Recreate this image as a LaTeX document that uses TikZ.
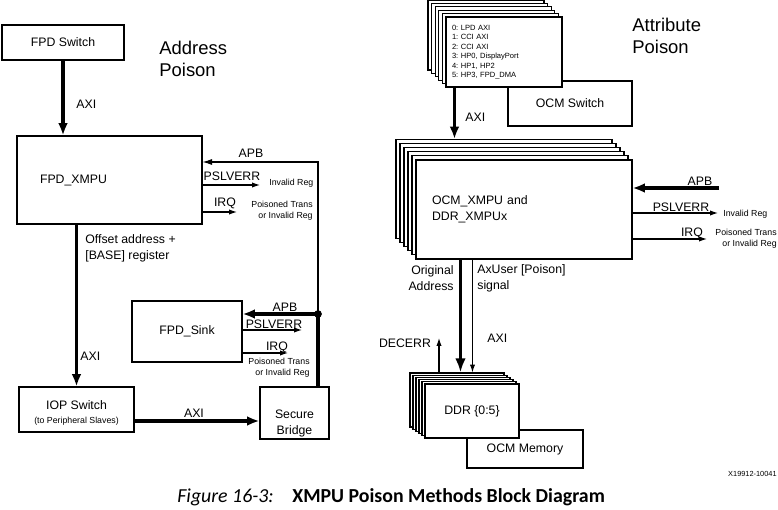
\documentclass[tikz,border=0pt]{standalone}
\usepackage{fontspec}
\setmainfont{Liberation Sans}
\newfontfamily\capfont{Carlito}
\usetikzlibrary{arrows.meta}

\begin{document}
\frenchspacing
\begin{tikzpicture}[x=0.02cm, y=-0.02cm,
  box/.style={draw, line width=0.6pt, fill=white, inner sep=0pt},
  bigarrow/.style={line width=2.1pt, -{Latex[length=7pt,width=5.5pt]}},
  thinarrow/.style={line width=0.6pt, -{Latex[length=4.5pt,width=3pt]}},
  lbl/.style={font=\fontsize{7}{9}\selectfont, inner sep=0pt},
  note/.style={font=\fontsize{5}{6.2}\selectfont, inner sep=0pt, align=right},
  heading/.style={font=\fontsize{10.5}{12.5}\selectfont, inner sep=0pt, align=left, anchor=west}]

\useasboundingbox (0,0) rectangle (778,510);

% address poison
\node[heading] (addrtitle) at (159,59) {Address\\Poison};
\node[box, lbl, minimum width=2.44cm, minimum height=0.7cm] (fpdswitch) at (63,42.5) {FPD Switch};
\node[box, lbl, minimum width=3.7cm, minimum height=1.76cm, text width=2.78cm, align=left] (fpdxmpu) at (109.5,180) {FPD\_XMPU};
\node[box, minimum width=2.3cm, minimum height=0.9cm] (iop) at (76.5,409.5) {};
\node[lbl, align=center] (ioptext) at (76.5,413) {IOP Switch\\[-1pt]{\fontsize{5}{6}\selectfont (to Peripheral Slaves)}};
\node[box, minimum width=1.38cm, minimum height=1.04cm] (bridge) at (294.5,413) {};
\node[lbl, align=center] (bridgetext) at (294.5,423.5) {Secure\\Bridge};
\node[box, lbl, minimum width=2.2cm, minimum height=1.22cm] (fpdsink) at (187,331.5) {FPD\_Sink};

\coordinate (apbdot) at (318,314);
\coordinate (apbtop) at (318,162);
\coordinate (pslvA) at (260,185);
\coordinate (irqA) at (237,212);
\coordinate (pslvB) at (302,330);
\coordinate (irqB) at (288,353);

\draw[bigarrow] (fpdswitch.south) -- (fpdswitch.south |- fpdxmpu.north);
\node[lbl, anchor=west] (axitop) at (76,104) {AXI};
\draw[bigarrow] (fpdxmpu.south -| iop.north) -- (iop.north);
\node[lbl, anchor=west, align=left] (offset) at (85,248) {Offset address +\\{}[BASE] register};
\node[lbl, anchor=west] (axileft) at (80,356) {AXI};
\draw[bigarrow] ([yshift=-0.23cm]iop.east) -- ([yshift=-0.23cm]iop.east -| bridge.west);
\node[lbl] (axibottom) at (194,413) {AXI};

% APB wire
\draw[line width=2.1pt] (apbdot |- bridge.north) -- (apbdot);
\draw[thinarrow, -{Latex[length=5.5pt,width=3.5pt]}] (apbdot) -- (apbtop) -- (apbtop -| fpdxmpu.east);
\fill (apbdot) circle (2.2pt);
\draw[bigarrow] (apbdot) -- (apbdot -| fpdsink.east);
\node[lbl] (apbxmpu) at (251,153) {APB};
\node[lbl] (apbsink) at (285,307) {APB};

\draw[thinarrow] (pslvA -| fpdxmpu.east) -- (pslvA);
\node[lbl] (pslvAtext) at (232,176) {PSLVERR};
\node[note, anchor=west] (invalidA) at (269,183) {Invalid Reg};
\draw[thinarrow] (irqA -| fpdxmpu.east) -- (irqA);
\node[lbl] (irqAtext) at (225,203) {IRQ};
\node[note, anchor=east] (poisonA) at (313,210.5) {Poisoned Trans\\or Invalid Reg};

\draw[thinarrow] (pslvB -| fpdsink.east) -- (pslvB);
\node[lbl] (pslvBtext) at (274,324) {PSLVERR};
\draw[thinarrow] (irqB -| fpdsink.east) -- (irqB);
\node[lbl] (irqBtext) at (277,347) {IRQ};
\node[note, anchor=east] (poisonB) at (310,367.5) {Poisoned Trans\\or Invalid Reg};

% attribute poison
\node[heading] (attrtitle) at (632,36) {Attribute\\Poison};
\node[box, lbl, minimum width=2.48cm, minimum height=0.9cm] (ocmswitch) at (570,103.5) {OCM Switch};
\foreach \k in {5,...,1}
  \node[box, minimum width=2.32cm, minimum height=1.4cm] (port\k) at ({504-3.6*\k},{52-3.4*\k}) {};
\node[box, minimum width=2.32cm, minimum height=1.4cm, text width=2.08cm, align=left, font=\fontsize{4.3}{5.4}\selectfont] (ports) at (504,52)
  {0: LPD AXI\\1: CCI AXI\\2: CCI AXI\\3: HP0, DisplayPort\\4: HP1, HP2\\5: HP3, FPD\_DMA};

\foreach \k in {5,...,1}
  \node[box, minimum width=4.32cm, minimum height=1.98cm] (xmpu\k) at ({524-4*\k},{209.5-4.1*\k}) {};
\node[box, lbl, minimum width=4.32cm, minimum height=1.98cm, text width=3.68cm, align=left] (xmpu) at (524,209.5) {OCM\_XMPU and\\DDR\_XMPUx};

\draw[bigarrow] ([xshift=0.18cm]ports.south west) -- ([xshift=0.18cm]ports.south west |- xmpu5.north);
\node[lbl, anchor=west] (axiright) at (465,117) {AXI};

\coordinate (apbin) at (719,188);
\coordinate (pslvC) at (718,213);
\coordinate (irqC) at (707,239);
\draw[bigarrow] (apbin) -- (apbin -| xmpu.east);
\node[lbl] (apbright) at (700,181.5) {APB};
\draw[thinarrow] (pslvC -| xmpu.east) -- (pslvC);
\node[lbl] (pslvCtext) at (681,207) {PSLVERR};
\node[note, anchor=west] (invalidC) at (723,214) {Invalid Reg};
\draw[thinarrow] (irqC -| xmpu.east) -- (irqC);
\node[lbl] (irqCtext) at (692,233) {IRQ};
\node[note, anchor=east] (poisonC) at (777,238.5) {Poisoned Trans\\or Invalid Reg};

% memories
\node[box, lbl, minimum width=2.32cm, minimum height=0.76cm] (ocmmem) at (525,449) {OCM Memory};
\foreach \k in {5,...,1}
  \node[box, minimum width=1.88cm, minimum height=1.08cm] (ddr\k) at ({472-3*\k},{411-2.2*\k}) {};
\node[box, lbl, minimum width=1.88cm, minimum height=1.08cm] (ddr) at (472,411) {DDR \{0:5\}};

\draw[bigarrow, -{Latex[length=8pt,width=6pt]}] ([xshift=0.9cm]xmpu.south west) -- ([xshift=0.9cm]xmpu.south west |- ddr5.north);
\draw[thinarrow] ([xshift=1.14cm]xmpu.south west) -- ([xshift=1.14cm]xmpu.south west |- ddr5.north);
\node[lbl, anchor=east, align=right] (origaddr) at (454,278) {Original\\Address};
\node[lbl, anchor=west, align=left] (axuser) at (477,278) {AxUser [Poison]\\signal};
\node[lbl, anchor=west] (axiddr) at (487,338) {AXI};
\node[lbl] (decerr) at (405,343) {DECERR};
\coordinate (decerrtip) at (439,338);
\draw[thinarrow] (decerrtip |- ddr5.north) -- (decerrtip);

% caption
\node[font=\fontsize{4.2}{5}\selectfont, anchor=east, inner sep=0pt] (figid) at (777,474) {X19912-10041};
\node[anchor=west, inner sep=0pt, font=\capfont\fontsize{11.3}{13}\selectfont\itshape] (figlabel) at (177,497) {Figure 16-3:};
\node[anchor=west, inner sep=0pt, font=\capfont\fontsize{11.3}{13}\selectfont\bfseries] (figtitle) at (292,497) {XMPU Poison Methods Block Diagram};
\end{tikzpicture}
\end{document}
